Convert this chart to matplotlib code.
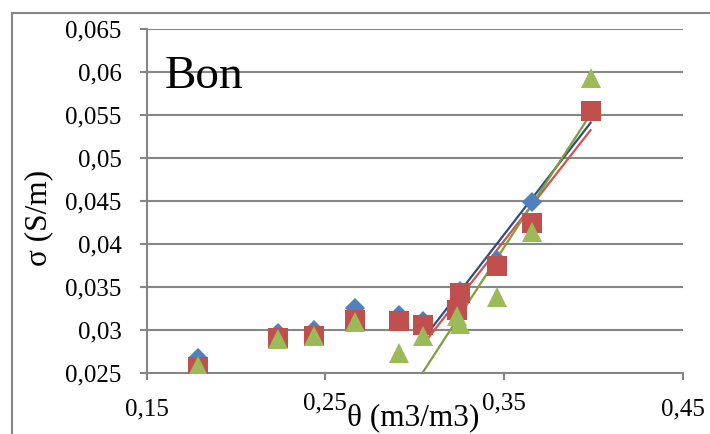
import numpy as np
import matplotlib
matplotlib.use("Agg")
import matplotlib.pyplot as plt
from matplotlib.ticker import FuncFormatter, MultipleLocator
from matplotlib.transforms import ScaledTranslation
from matplotlib.patches import Rectangle

plt.rcParams['font.family'] = ['Liberation Serif', 'DejaVu Serif']

# water content (m3/m3) and conductivity (S/m) for the three series
theta = [0.1785, 0.2237, 0.2435, 0.2667, 0.2912, 0.3048, 0.3235, 0.3255, 0.3461, 0.3654, 0.3984]
sigma_blue = [0.0267, 0.0297, 0.0300, 0.0326, 0.0318, 0.0311, 0.0328, 0.0345, 0.0382, 0.0449, 0.0554]
sigma_red = [0.0257, 0.0291, 0.0293, 0.0312, 0.0310, 0.0306, 0.0323, 0.0343, 0.0374, 0.0425, 0.0555]
sigma_green = [0.0258, 0.0290, 0.0293, 0.0309, 0.0273, 0.0293, 0.0316, 0.0307, 0.0338, 0.0414, 0.0593]
x_ticks = [0.15, 0.25, 0.35, 0.45]
fit_from = 5  # linear trend only over the wet end

W, H = 710, 434
fig = plt.figure(figsize=(W / 100, H / 100), dpi=100)
ax = fig.add_axes([146.7 / W, 1 - 373 / H, (682.7 - 146.7) / W, (373 - 29.3) / H])

grey = '#868686'
series = [
    (sigma_blue, '#4F81BD', 'D', 10.5, '#2B4F80'),
    (sigma_red, '#C0504D', 's', 14.4, '#D2524E'),
    (sigma_green, '#9BBB59', '^', 14.6, '#7F9E3E'),
]

x = np.array(theta)
for ys, col, mk, ms, lcol in series:
    y = np.array(ys)
    k, b = np.polyfit(x[fit_from:], y[fit_from:], 1)
    xf = np.array([x[fit_from], x[-1]])
    ax.plot(xf, k * xf + b, color=lcol, lw=1.6, zorder=2)
for ys, col, mk, ms, lcol in series:
    ax.plot(x, ys, linestyle='none', marker=mk, ms=ms, color=col,
            markeredgewidth=0, zorder=3)

ax.set_xlim(0.15, 0.45)
ax.set_ylim(0.025, 0.065)
ax.set_xticks(x_ticks)
ax.yaxis.set_major_locator(MultipleLocator(0.005))
comma = FuncFormatter(lambda v, p: f"{round(v, 4):g}".replace('.', ','))
ax.xaxis.set_major_formatter(comma)
ax.yaxis.set_major_formatter(comma)

ax.grid(axis='y', color=grey, lw=1.5)
ax.set_axisbelow(True)
for s in ['top', 'right']:
    ax.spines[s].set_visible(False)
for s in ['left', 'bottom']:
    ax.spines[s].set_color(grey)
    ax.spines[s].set_linewidth(1.5)
ax.tick_params(axis='both', direction='out', length=5, width=1.5, color=grey,
               labelsize=18)
ax.tick_params(axis='y', pad=13)
ax.tick_params(axis='x', pad=13)

# the middle x tick labels sit a little higher
fig.canvas.draw()
for lab in ax.get_xticklabels():
    if lab.get_text() in ('0,25', '0,35'):
        lab.set_transform(lab.get_transform() + ScaledTranslation(0, 6 / 100, fig.dpi_scale_trans))

fig.text(412.8 / W, 1 - 425 / H, 'θ (m3/m3)', fontsize=22.5, ha='center', va='baseline')
fig.text(39 / W, 1 - 218 / H, 'σ (S/m)', fontsize=22.5, ha='center', va='center', rotation=90)
fig.text(165 / W, 1 - 88 / H, 'Bon', fontsize=34, ha='left', va='baseline')

# chart area frame
fig.patches.append(Rectangle((12 / W, -0.1), 1.2, 1 - 13 / H + 0.1, transform=fig.transFigure,
                             fill=False, edgecolor=grey, lw=1.5))

fig.savefig('out.png', dpi=100)
